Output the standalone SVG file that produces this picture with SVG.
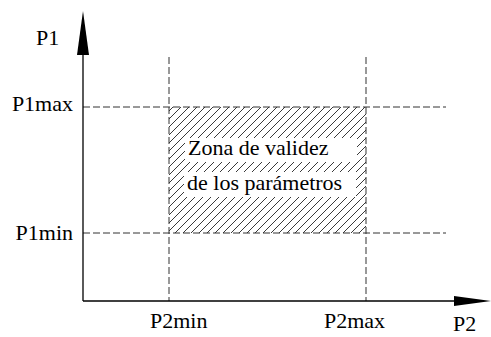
<svg xmlns="http://www.w3.org/2000/svg" width="491" height="337" viewBox="0 0 491 337" font-family="'Liberation Serif', 'Times New Roman', 'DejaVu Serif', serif">
<style>
text{font-family:'Liberation Serif','Times New Roman','DejaVu Serif',serif;font-size:22px;fill:#000}
.dash{stroke:#333;stroke-width:1;stroke-dasharray:7 3;fill:none}
.axis{stroke:#000;stroke-width:1.3;fill:none}
</style>
<defs>
<pattern id="hatch" patternUnits="userSpaceOnUse" width="8" height="8">
<path d="M-2,2 L2,-2 M0,8 L8,0 M6,10 L10,6" stroke="#222" stroke-width="0.9"/>
</pattern>
</defs>
<rect width="491" height="337" fill="#fff"/>
<g id="zona">
<rect x="169" y="107" width="197" height="126" fill="url(#hatch)"/>
<rect x="185" y="138" width="172" height="24" fill="#fff"/>
<rect x="184" y="172" width="172" height="25" fill="#fff"/>
<text x="188" y="155">Zona de validez</text>
<text x="187" y="190">de los parámetros</text>
</g>
<g id="connectors">
<line class="dash" x1="83" y1="107" x2="446" y2="107"/>
<line class="dash" x1="83" y1="233" x2="446" y2="233"/>
<line class="dash" x1="169" y1="57" x2="169" y2="301"/>
<line class="dash" x1="366" y1="57" x2="366" y2="301"/>
</g>
<g id="axis-p1">
<line class="axis" x1="83" y1="301" x2="83" y2="50"/>
<polygon points="83,11 89,55 77,55" fill="#000"/>
<text x="36" y="45">P1</text>
</g>
<g id="axis-p2">
<line class="axis" x1="83" y1="301" x2="460" y2="301"/>
<polygon points="491,301 454,296 454,306" fill="#000"/>
<text x="453" y="331">P2</text>
</g>
<g id="labels">
<text x="73" y="111" text-anchor="end">P1max</text>
<text x="73" y="240" text-anchor="end">P1min</text>
<text x="150" y="328">P2min</text>
<text x="324" y="328">P2max</text>
</g>
</svg>
